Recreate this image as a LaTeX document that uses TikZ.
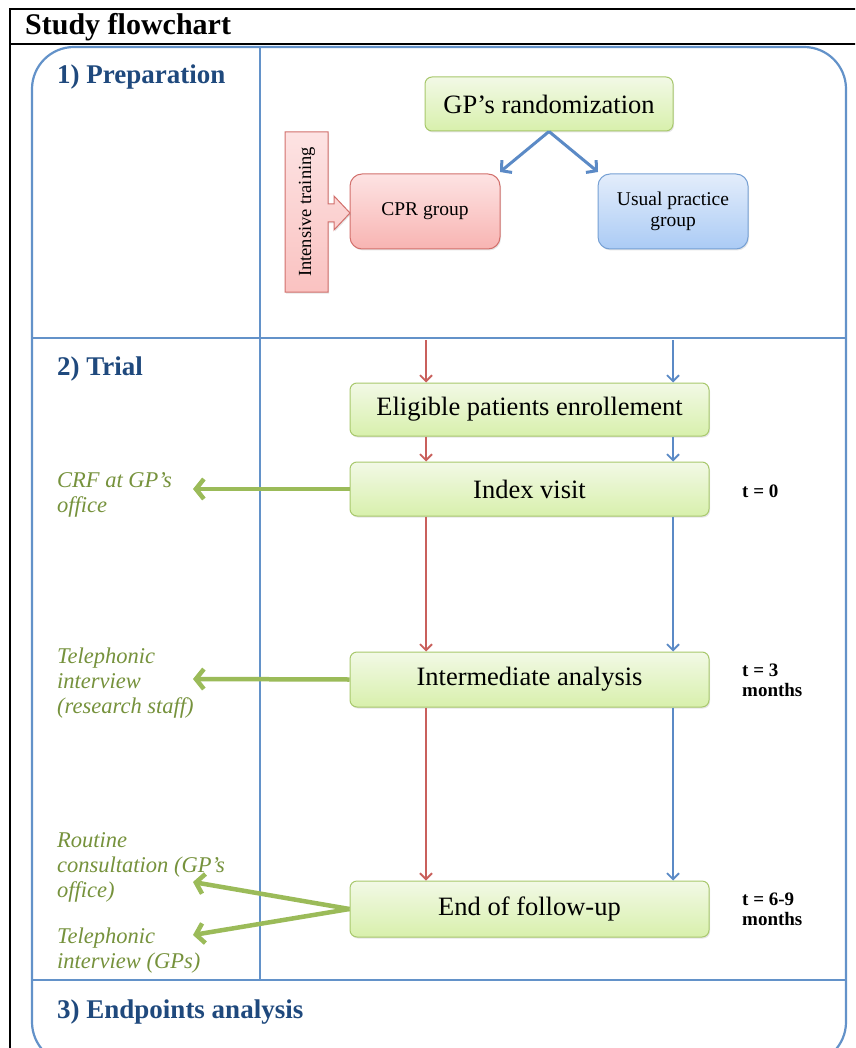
\documentclass[tikz,border=0pt]{standalone}
\usepackage{fontspec}
\setmainfont{Liberation Serif}
\usetikzlibrary{arrows.meta,shadows}
\definecolor{hblue}{HTML}{1F497D}
\definecolor{fblue}{HTML}{6392C9}
\definecolor{gborder}{HTML}{A8C86C}
\definecolor{gtop}{HTML}{F2F9E6}
\definecolor{gbot}{HTML}{D8F0AC}
\definecolor{rborder}{HTML}{D2706C}
\definecolor{rtop}{HTML}{FDE3E3}
\definecolor{rbot}{HTML}{F8B4B2}
\definecolor{bborder}{HTML}{76A0D4}
\definecolor{btop}{HTML}{E3EDFB}
\definecolor{bbot}{HTML}{ABCBF5}
\definecolor{rarrow}{HTML}{C9605C}
\definecolor{barrow}{HTML}{5B8AC6}
\definecolor{garrow}{HTML}{9BBB59}
\definecolor{gtext}{HTML}{76923C}
\tikzset{
  frame/.style={draw=fblue, line width=2.2pt},
  shad/.style={drop shadow={opacity=0.2, shadow xshift=1pt, shadow yshift=-1.5pt}},
  gbox/.style={draw=gborder, line width=1pt, rounded corners=7pt, top color=gtop, bottom color=gbot,
    minimum width=359pt, minimum height=54pt, inner sep=0pt, font=\fontsize{26.5}{30}\selectfont, shad},
  rbox/.style={draw=rborder, line width=1pt, rounded corners=12pt, top color=rtop, bottom color=rbot,
    minimum width=150pt, minimum height=75pt, inner sep=0pt, align=center, font=\fontsize{19.5}{21}\selectfont, shad},
  bbox/.style={draw=bborder, line width=1pt, rounded corners=12pt, top color=btop, bottom color=bbot,
    minimum width=150pt, minimum height=75pt, inner sep=0pt, align=center, font=\fontsize{19.5}{21}\selectfont, shad},
  head/.style={anchor=west, inner sep=0pt, text=hblue, font=\fontsize{27}{30}\selectfont\bfseries},
  note/.style={anchor=west, inner sep=0pt, text=gtext, align=left, font=\fontsize{22.5}{25}\selectfont\itshape},
  tlabel/.style={anchor=west, inner sep=0pt, align=left, font=\fontsize{19}{20}\selectfont\bfseries},
  redarr/.style={draw=rarrow, line width=1.8pt, -{Straight Barb[length=6pt,width=12pt,line width=1.8pt]}},
  bluearr/.style={draw=barrow, line width=1.8pt, -{Straight Barb[length=6pt,width=12pt,line width=1.8pt]}},
  splitarr/.style={draw=barrow, line width=3pt, -{Straight Barb[length=7pt,width=16pt,line width=3pt]}},
  greenarr/.style={draw=garrow, line width=4.5pt, -{Straight Barb[length=8pt,width=20pt,line width=4.5pt]}},
}
\begin{document}
\begin{tikzpicture}[x=1pt,y=-1pt]
\useasboundingbox (0,0) rectangle (855,1048);
\clip (0,0) rectangle (855,1048);
\fill[white] (0,0) rectangle (855,1048);

% black frame and title
\draw[line width=1.5pt] (10,1050) -- (10,9) -- (856,9);
\draw[line width=1.5pt] (10,44) -- (856,44);
\node[anchor=west, inner sep=0pt, font=\fontsize{30}{32}\selectfont\bfseries] (title) at (25,27) {Study flowchart};

% blue frame
\draw[frame, rounded corners=42pt] (32,47) rectangle (846,1064);
\draw[frame] (260,47) -- (260,980);
\draw[frame] (32,338) -- (846,338);
\draw[frame] (32,980) -- (846,980);

% headings
\node[head] (h1) at (57,77) {1) Preparation};
\node[head] (h2) at (57,369) {2) Trial};
\node[head] (h3) at (57,1012) {3) Endpoints analysis};

% preparation
\node[gbox, minimum width=248pt] (gp) at (549,104) {GP’s randomization};
\node[rbox] (cpr) at (425,211.5) {CPR group};
\node[bbox] (usual) at (673,211.5) {Usual practice\\group};
\draw[splitarr] (gp.south) -- (500,172);
\draw[splitarr] (gp.south) -- (598,172);

% intensive training block arrow
\path[draw=rborder, line width=1pt, top color=rtop, bottom color=rbot!70!rtop, shad]
  (285,132) -- (328,132) -- (328,204) -- (334,204) -- (334,196) -- (350,213) -- (334,230) -- (334,222)
  -- (328,222) -- (328,292) -- (285,292) -- cycle;
\node[rotate=90, inner sep=0pt, font=\fontsize{18.5}{20}\selectfont] (train) at (307,212) {Intensive training};

% trial boxes
\node[gbox, minimum height=53pt] (elig) at (529.5,409.5) {Eligible patients enrollement};
\node[gbox] (index) at (529.5,489) {Index visit};
\node[gbox, minimum height=55pt] (inter) at (529.5,679.5) {Intermediate analysis};
\node[gbox, minimum height=56pt] (endf) at (529.5,909) {End of follow-up};

% vertical arrows
\coordinate (r0) at (426,340);
\coordinate (b0) at (673,340);
\draw[redarr] (r0) -- (r0 |- elig.north);
\draw[redarr] (elig.south -| r0) -- (index.north -| r0);
\draw[redarr] (index.south -| r0) -- (inter.north -| r0);
\draw[redarr] (inter.south -| r0) -- (endf.north -| r0);
\draw[bluearr] (b0) -- (b0 |- elig.north);
\draw[bluearr] (elig.south -| b0) -- (index.north -| b0);
\draw[bluearr] (index.south -| b0) -- (inter.north -| b0);
\draw[bluearr] (inter.south -| b0) -- (endf.north -| b0);

% notes
\node[note] (crf) at (57,494.5) {CRF at GP’s\\office};
\node[note] (tel1) at (57,683) {Telephonic\\interview\\(research staff)};
\node[note] (rout) at (57,867) {Routine\\consultation (GP’s\\office)};
\node[note] (tel2) at (57,951) {Telephonic\\interview (GPs)};
\coordinate (crfend) at (193,489);
\coordinate (tel1end) at (193,679);
\coordinate (routend) at (193,882);
\coordinate (tel2end) at (193,935);
\draw[greenarr] (index.west) -- (crfend);
\draw[greenarr] (inter.west) -- (tel1end);
\draw[greenarr] (endf.west) -- (routend);
\draw[greenarr] (endf.west) -- (tel2end);

% time labels
\node[tlabel] (t0) at (742,491) {t = 0};
\node[tlabel] (t3) at (742,680) {t = 3\\months};
\node[tlabel] (t69) at (742,909) {t = 6-9\\months};
\end{tikzpicture}
\end{document}
